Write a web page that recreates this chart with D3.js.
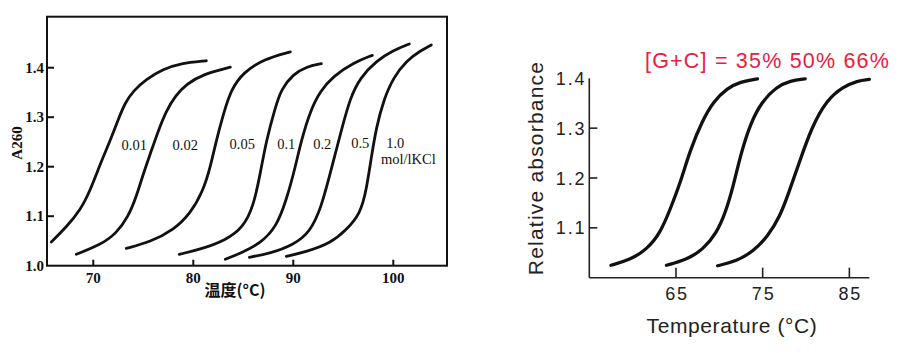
<!DOCTYPE html>
<html><head><meta charset="utf-8">
<script src="https://cdn.jsdelivr.net/npm/d3@7"></script>
<style>
html,body{margin:0;padding:0;background:#fff;}
svg{display:block;}
</style></head>
<body>
<svg id="c" width="902" height="353"></svg>
<script>
// ---------- LEFT PANEL DATA (temperature °C, A260) ----------
const leftXTicks = [70, 80, 90, 100];
const leftYTicks = [1.0, 1.1, 1.2, 1.3, 1.4];
const leftLabels = ["0.01", "0.02", "0.05", "0.1", "0.2", "0.5", "1.0"];
const leftLabelPos = [[74.1,1.243],[79.2,1.243],[84.9,1.245],[89.3,1.246],[92.9,1.246],[96.7,1.247],[100.2,1.247]];
const curve001 = [[65.8,1.048],[67.3,1.078],[68.7,1.112],[69.7,1.152],[70.7,1.206],[71.7,1.253],[72.5,1.296],[73.2,1.330],[74.0,1.353],[75.3,1.377],[77.0,1.397],[78.7,1.409],[81.3,1.414]];
const curve002 = [[68.3,1.023],[70.7,1.042],[72.3,1.065],[73.5,1.099],[74.3,1.139],[75.0,1.186],[75.7,1.226],[76.5,1.273],[77.3,1.313],[78.2,1.343],[79.3,1.367],[81.0,1.387],[83.7,1.401]];
const curve005 = [[73.3,1.035],[75.7,1.048],[78.0,1.072],[79.7,1.105],[81.0,1.152],[81.7,1.199],[82.3,1.253],[83.0,1.306],[83.8,1.357],[85.0,1.390],[87.0,1.417],[89.7,1.432]];
const curve01 = [[78.6,1.023],[80.7,1.033],[83.3,1.052],[85.0,1.078],[86.0,1.119],[86.7,1.186],[87.3,1.253],[88.2,1.320],[88.8,1.357],[90.0,1.387],[91.3,1.402],[92.8,1.408]];
const curve02 = [[83.2,1.013],[84.7,1.025],[86.7,1.045],[88.3,1.078],[89.3,1.132],[90.2,1.199],[90.8,1.253],[91.7,1.313],[92.7,1.353],[94.0,1.383],[96.0,1.410],[97.9,1.425]];
const curve05 = [[85.6,1.017],[87.7,1.025],[90.0,1.042],[91.7,1.068],[92.8,1.119],[93.5,1.172],[94.2,1.226],[94.8,1.273],[95.7,1.340],[96.7,1.380],[98.3,1.414],[100.0,1.435],[101.6,1.448]];
const curve10 = [[89.3,1.019],[91.3,1.028],[93.7,1.045],[95.3,1.072],[96.7,1.105],[97.3,1.152],[97.8,1.219],[98.3,1.279],[99.0,1.333],[100.0,1.380],[101.3,1.414],[102.7,1.434],[103.8,1.446]];
const leftCurves = [curve001, curve002, curve005, curve01, curve02, curve05, curve10];

// ---------- RIGHT PANEL DATA ----------
const rightXTicks = [65, 75, 85];
const rightYTicks = [1.1, 1.2, 1.3, 1.4];
const gcTitle = "[G+C] = 35% 50% 66%";
const gc35 = [[57.5,1.025],[59.7,1.036],[61.6,1.056],[63.2,1.090],[64.3,1.136],[65.5,1.190],[66.6,1.255],[68.1,1.317],[69.3,1.353],[70.9,1.380],[72.4,1.393],[74.4,1.399]];
const gc50 = [[63.9,1.025],[66.2,1.036],[68.1,1.056],[69.7,1.090],[70.7,1.130],[71.6,1.183],[72.5,1.250],[73.6,1.310],[74.9,1.353],[76.6,1.383],[78.2,1.395],[79.9,1.399]];
const gc66 = [[69.8,1.024],[72.0,1.033],[73.9,1.053],[75.6,1.083],[77.0,1.123],[78.0,1.170],[79.2,1.230],[80.6,1.300],[82.4,1.357],[84.3,1.383],[85.9,1.395],[87.3,1.398]];
const rightCurves = [gc35, gc50, gc66];

const svg = d3.select("#c");

// ================= LEFT PANEL =================
const lx = d3.scaleLinear().domain([65.37, 105.37]).range([47, 447]);
const ly = d3.scaleLinear().domain([1.0, 1.5]).range([265.7, 18.2]);
const L = svg.append("g");
const serif = "'Liberation Serif','Times New Roman',serif";

L.append("rect").attr("x", lx.range()[0]).attr("y", ly.range()[1] - 1.5)
  .attr("width", lx.range()[1] - lx.range()[0]).attr("height", ly.range()[0] - ly.range()[1] + 1.5)
  .attr("fill", "none").attr("stroke", "#111").attr("stroke-width", 2);

L.selectAll(".lyt").data(leftYTicks.filter(d => d > 1.0)).enter().append("line")
  .attr("x1", lx.range()[0]).attr("x2", lx.range()[0] + 7)
  .attr("y1", d => ly(d)).attr("y2", d => ly(d))
  .attr("stroke", "#111").attr("stroke-width", 2);
L.selectAll(".lyl").data(leftYTicks).enter().append("text")
  .attr("x", lx.range()[0] - 3).attr("y", d => ly(d) + 5)
  .attr("text-anchor", "end").attr("font-family", serif).attr("font-weight", "bold")
  .attr("font-size", 15).attr("fill", "#111").text(d => d.toFixed(1));
L.selectAll(".lxt").data(leftXTicks).enter().append("line")
  .attr("x1", d => lx(d)).attr("x2", d => lx(d))
  .attr("y1", ly.range()[0]).attr("y2", ly.range()[0] - 6)
  .attr("stroke", "#111").attr("stroke-width", 2);
L.selectAll(".lxl").data(leftXTicks).enter().append("text")
  .attr("x", d => lx(d)).attr("y", ly.range()[0] + 17)
  .attr("text-anchor", "middle").attr("font-family", serif).attr("font-weight", "bold")
  .attr("font-size", 15).attr("fill", "#111").text(d => d);

L.append("text").attr("transform", "translate(22,143) rotate(-90)")
  .attr("text-anchor", "middle").attr("font-family", serif).attr("font-weight", "bold")
  .attr("font-size", 15).attr("fill", "#111").text("A260");
L.append("text").attr("x", 235).attr("y", 296)
  .attr("text-anchor", "middle").attr("font-family", "'Noto Sans CJK SC',serif").attr("font-weight", "bold")
  .attr("font-size", 16).attr("fill", "#111").text("温度(°C)");

const lline = d3.line().x(d => lx(d[0])).y(d => ly(d[1])).curve(d3.curveBasis);
L.selectAll(".lc").data(leftCurves).enter().append("path")
  .attr("d", lline).attr("fill", "none").attr("stroke", "#111")
  .attr("stroke-width", 2.8).attr("stroke-linecap", "round");

L.selectAll(".ll").data(leftLabels).enter().append("text")
  .attr("x", (d, i) => lx(leftLabelPos[i][0])).attr("y", (d, i) => ly(leftLabelPos[i][1]) + 5)
  .attr("text-anchor", "middle").attr("font-family", serif)
  .attr("font-size", 14.5).attr("fill", "#111").text(d => d);
L.append("text").attr("x", lx(101.5)).attr("y", ly(1.216) + 5)
  .attr("text-anchor", "middle").attr("font-family", serif)
  .attr("font-size", 14.5).attr("fill", "#111").text("mol/lKCl");

// ================= RIGHT PANEL =================
const rx = d3.scaleLinear().domain([55, 87.3]).range([589.3, 869.3]);
const ry = d3.scaleLinear().domain([1.0, 1.4]).range([277.7, 78.3]);
const R = svg.append("g");
const sans = "'Liberation Sans',Arial,Helvetica,sans-serif";

R.append("line").attr("x1", rx.range()[0]).attr("x2", rx.range()[0])
  .attr("y1", ry.range()[1]).attr("y2", ry.range()[0])
  .attr("stroke", "#222").attr("stroke-width", 1.6);
R.append("line").attr("x1", rx.range()[0]).attr("x2", rx.range()[1])
  .attr("y1", ry.range()[0]).attr("y2", ry.range()[0])
  .attr("stroke", "#222").attr("stroke-width", 1.6);
R.selectAll(".ryt").data(rightYTicks.filter(d => d < 1.4)).enter().append("line")
  .attr("x1", rx.range()[0]).attr("x2", rx.range()[0] + 8)
  .attr("y1", d => ry(d)).attr("y2", d => ry(d))
  .attr("stroke", "#222").attr("stroke-width", 1.6);
R.selectAll(".ryl").data(rightYTicks).enter().append("text")
  .attr("x", rx.range()[0] - 3).attr("y", d => ry(d) + 6.5)
  .attr("text-anchor", "end").attr("font-family", sans).attr("letter-spacing", 1.8)
  .attr("font-size", 18).attr("fill", "#222").text(d => d.toFixed(1));
R.selectAll(".rxt").data(rightXTicks).enter().append("line")
  .attr("x1", d => rx(d)).attr("x2", d => rx(d))
  .attr("y1", ry.range()[0]).attr("y2", ry.range()[0] - 10)
  .attr("stroke", "#222").attr("stroke-width", 1.6);
R.selectAll(".rxl").data(rightXTicks).enter().append("text")
  .attr("x", d => rx(d) + 1).attr("y", ry.range()[0] + 22)
  .attr("text-anchor", "middle").attr("font-family", sans).attr("letter-spacing", 1.8)
  .attr("font-size", 18).attr("fill", "#222").text(d => d);

R.append("text").attr("x", 732).attr("y", 333)
  .attr("text-anchor", "middle").attr("font-family", sans).attr("letter-spacing", 0.6)
  .attr("font-size", 21).attr("fill", "#222").text("Temperature (°C)");
R.append("text").attr("transform", "translate(543,168) rotate(-90)")
  .attr("text-anchor", "middle").attr("font-family", sans).attr("letter-spacing", 1.2)
  .attr("font-size", 21).attr("fill", "#222").text("Relative absorbance");
R.append("text").attr("x", 645).attr("y", 68)
  .attr("font-family", sans).attr("letter-spacing", 1.2)
  .attr("font-size", 21.5).attr("fill", "#e8203c").text(gcTitle);

const rline = d3.line().x(d => rx(d[0])).y(d => ry(d[1])).curve(d3.curveBasis);
R.selectAll(".rc").data(rightCurves).enter().append("path")
  .attr("d", rline).attr("fill", "none").attr("stroke", "#111")
  .attr("stroke-width", 3.3).attr("stroke-linecap", "round");
</script>
</body></html>
